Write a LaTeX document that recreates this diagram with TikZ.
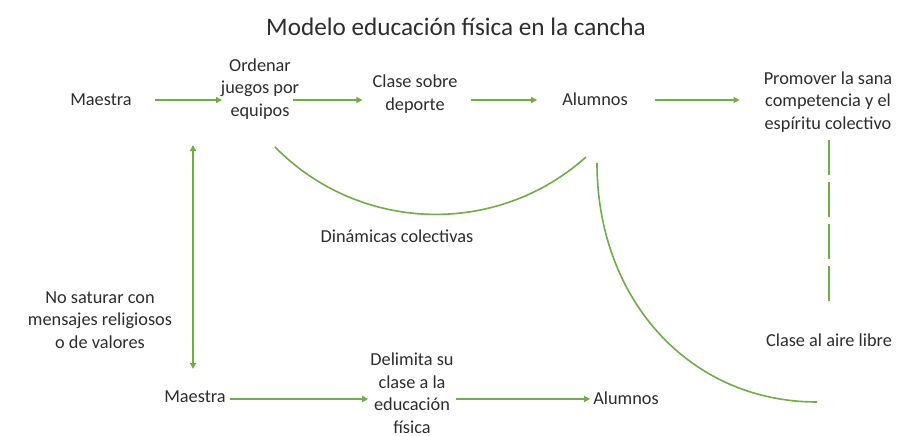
\documentclass[tikz,border=0pt]{standalone}
\usepackage{fontspec}
\setmainfont{Carlito}
\usetikzlibrary{arrows.meta}
\definecolor{lgreen}{RGB}{112,173,71}
\definecolor{txt}{RGB}{45,45,45}
\tikzset{
  lbl/.style={align=center, inner sep=0pt, text=txt, font=\fontsize{18.3}{22.5}\selectfont},
  conn/.style={draw=lgreen, line width=1.6pt},
  arr/.style={conn, -{Triangle[length=6pt,width=6pt]}},
  dbl/.style={conn, {Triangle[length=6pt,width=6pt]}-{Triangle[length=6pt,width=6pt]}},
}
\begin{document}
\begin{tikzpicture}[x=1pt,y=-1pt]
\useasboundingbox[fill=white] (0,0) rectangle (903,436);
\node[lbl, font=\fontsize{25.2}{30}\selectfont] (title) at (456,27) {Modelo educación física en la cancha};
\node[lbl] (m1) at (101,100) {Maestra};
\node[lbl] (ord) at (260,89) {Ordenar\\juegos por\\equipos};
\node[lbl] (cla) at (415,94) {Clase sobre\\deporte};
\node[lbl] (al1) at (595,99) {Alumnos};
\node[lbl] (pro) at (828,102) {Promover la sana\\competencia y el\\espíritu colectivo};
\node[lbl] (din) at (397,236) {Dinámicas colectivas};
\node[lbl] (nos) at (100,320) {No saturar con\\mensajes religiosos\\o de valores};
\node[lbl] (m2) at (195,397) {Maestra};
\node[lbl] (del) at (412,393) {Delimita su\\clase a la\\educación\\física};
\node[lbl] (al2) at (626,398) {Alumnos};
\node[lbl] (cal) at (829,340) {Clase al aire libre};
% coordinates
\coordinate (v1) at (193,145);
\coordinate (v2) at (193,369);
\coordinate (c1a) at (275,147);
\coordinate (c2a) at (597,163);
\coordinate (c2b) at (817,402);
\coordinate (d1) at (829,140);
\coordinate (d2) at (829,308);
% arrows
\draw[arr] ([xshift=23pt]m1.east |- 0,100) -- (222,100);
\draw[arr] (293,100) -- ([xshift=-10pt]cla.west |- 0,100);
\draw[arr] ([xshift=13pt]cla.east |- 0,100) -- ([xshift=-25pt]al1.west |- 0,100);
\draw[arr] ([xshift=27pt]al1.east |- 0,100) -- ([xshift=-24pt]pro.west |- 0,100);
\draw[dbl] (v1) -- (v2);
\draw[arr] ([xshift=4pt]m2.east |- 0,399) -- ([xshift=-2pt]del.west |- 0,399);
\draw[arr] ([xshift=2pt]del.east |- 0,399) -- ([xshift=-3pt]al2.west |- 0,399);
\draw[conn] (c1a) arc[start angle=135.5, end angle=48.2, radius=225.4];
\draw[conn] (c2a) .. controls (597,300) and (690,402) .. (c2b);
\draw[conn, dash pattern=on 35pt off 7pt] (d1) -- (d2);
\end{tikzpicture}
\end{document}
